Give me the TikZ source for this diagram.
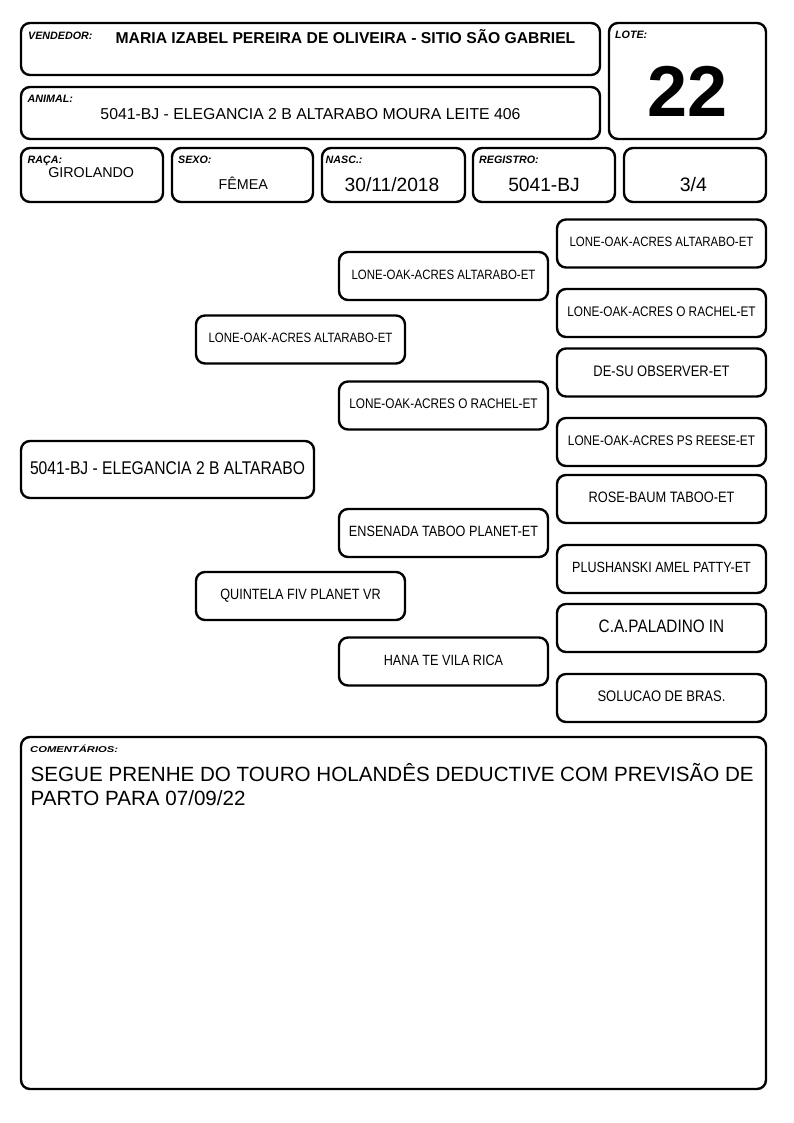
\documentclass[tikz,border=0pt]{standalone}
\usepackage{fontspec}
\setmainfont{Liberation Sans}
\newfontfamily\condfont[FakeStretch=0.85]{Liberation Sans}
\newcommand\fsz[1]{\fontsize{#1}{#1}\selectfont}
\begin{document}
\begin{tikzpicture}[x=1pt,y=-1pt,
  box/.style={draw=black,line width=2.4pt,rounded corners=9pt,inner sep=0pt},
  lbl/.style={anchor=base west,inner sep=0pt,font=\fsz{10.7}\bfseries\itshape},
  val/.style={anchor=base,inner sep=0pt},
  ped/.style={box,minimum width=209pt,minimum height=48pt,text depth=3pt},
]
\fill[white] (0,0) rectangle (794,1123);
\useasboundingbox (0,0) rectangle (794,1123);

% header boxes
\node[box,minimum width=579pt,minimum height=52pt] (vend) at (310.5,49) {};
\node[box,minimum width=579pt,minimum height=52pt] (anim) at (310.5,113) {};
\node[box,minimum width=157pt,minimum height=116pt] (lote) at (687.5,81) {};
\node[lbl] (vendl) at (28,39.5) {VENDEDOR:};
\node[val,font=\fsz{15.7}\bfseries] (vendv) at (345.5,43.3) {MARIA IZABEL PEREIRA DE OLIVEIRA - SITIO SÃO GABRIEL};
\node[lbl] (animl) at (27.5,102.7) {ANIMAL:};
\node[val,font=\fsz{15.8}] (animv) at (310.5,119.3) {5041-BJ - ELEGANCIA 2 B ALTARABO MOURA LEITE 406};
\node[lbl] (lotel) at (615,39) {LOTE:};
\node[val,font=\fsz{72}\bfseries] (lotev) at (687.7,116.7) {22};

% row 3
\node[box,minimum width=142pt,minimum height=54pt] (raca) at (92,175) {};
\node[box,minimum width=141pt,minimum height=54pt] (sexo) at (242.5,175) {};
\node[box,minimum width=143pt,minimum height=54pt] (nasc) at (393.5,175) {};
\node[box,minimum width=142pt,minimum height=54pt] (regi) at (544,175) {};
\node[box,minimum width=142pt,minimum height=54pt] (grau) at (695,175) {};
\node[lbl] (racal) at (27.5,163.5) {RAÇA:};
\node[lbl] (sexol) at (178,163.5) {SEXO:};
\node[lbl] (nascl) at (325.5,163.5) {NASC.:};
\node[lbl] (regil) at (479,163.5) {REGISTRO:};
\node[val,font=\fsz{14.3}] (racav) at (91.2,177.7) {GIROLANDO};
\node[val,font=\fsz{14.3}] (sexov) at (243.3,189.3) {FÊMEA};
\node[val,font=\fsz{19.2}] (nascv) at (392,191.7) {30/11/2018};
\node[val,font=\fsz{19.2}] (regiv) at (544,191.7) {5041-BJ};
\node[val,font=\fsz{19.5}] (grauv) at (693.3,191.7) {3/4};

% pedigree
\node[box,minimum width=293pt,minimum height=57pt,text depth=3pt,font=\condfont\fsz{18.4}] (prob) at (167.5,469.5) {5041-BJ - ELEGANCIA 2 B ALTARABO};
\node[ped,font=\condfont\fsz{13.5}] (sire) at (300.5,339.5) {LONE-OAK-ACRES ALTARABO-ET};
\node[ped,font=\condfont\fsz{14.9}] (dam) at (300.5,596) {QUINTELA FIV PLANET VR};
\node[ped,font=\condfont\fsz{13.5}] (ss) at (443.5,276) {LONE-OAK-ACRES ALTARABO-ET};
\node[ped,font=\condfont\fsz{13.9}] (sd) at (443.5,405.5) {LONE-OAK-ACRES O RACHEL-ET};
\node[ped,font=\condfont\fsz{14.9}] (ds) at (443.5,533) {ENSENADA TABOO PLANET-ET};
\node[ped,font=\condfont\fsz{14.85}] (dd) at (443.5,661.5) {HANA TE VILA RICA};
\node[ped,font=\condfont\fsz{13.5}] (sss) at (661.5,243.5) {LONE-OAK-ACRES ALTARABO-ET};
\node[ped,font=\condfont\fsz{13.9}] (ssd) at (661.5,313) {LONE-OAK-ACRES O RACHEL-ET};
\node[ped,font=\condfont\fsz{15.2}] (sds) at (661.5,372.5) {DE-SU OBSERVER-ET};
\node[ped,font=\condfont\fsz{13.9}] (sdd) at (661.5,442) {LONE-OAK-ACRES PS REESE-ET};
\node[ped,font=\condfont\fsz{15.1}] (dss) at (661.5,499) {ROSE-BAUM TABOO-ET};
\node[ped,font=\condfont\fsz{14.8}] (dsd) at (661.5,569) {PLUSHANSKI AMEL PATTY-ET};
\node[ped,font=\condfont\fsz{18}] (dds) at (661.5,628) {C.A.PALADINO IN};
\node[ped,font=\condfont\fsz{15.3}] (ddd) at (661.5,698) {SOLUCAO DE BRAS.};

% comments
\node[box,minimum width=745pt,minimum height=352pt] (com) at (393.5,913) {};
\node[lbl,font=\fsz{8.5}\bfseries\itshape] (coml) at (30,752.3) {\scalebox{1.32}[1]{COMENTÁRIOS:}};
\node[anchor=base west,inner sep=0pt,font=\fsz{20.6}] (comv1) at (30.5,781) {SEGUE PRENHE DO TOURO HOLANDÊS DEDUCTIVE COM PREVISÃO DE};
\node[anchor=base west,inner sep=0pt,font=\fsz{20.6}] (comv2) at (30.5,805) {PARTO PARA 07/09/22};
\end{tikzpicture}
\end{document}
